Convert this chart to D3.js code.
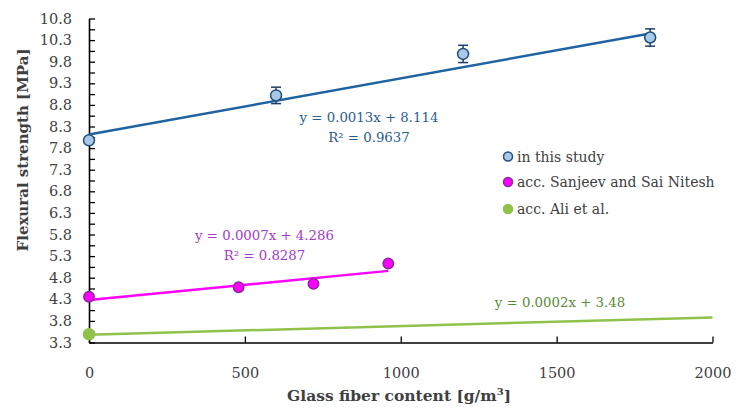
<!DOCTYPE html>
<html><head><meta charset="utf-8">
<script src="https://cdn.jsdelivr.net/npm/d3@7"></script>
<style>body{margin:0;background:#fff}svg{display:block}</style>
</head><body>
<script>
// Data
const studyX = [0, 600, 1200, 1800];
const studyY = [7.98, 9.02, 9.98, 10.36];
const studyErr = [0.02, 0.19, 0.2, 0.2];
const sanjeevX = [0, 480, 720, 960];
const sanjeevY = [4.36, 4.58, 4.66, 5.13];
const aliX = [0];
const aliY = [3.49];
const trendStudy = {slope: 0.0013, intercept: 8.114, x0: 0, x1: 1800};
const trendSanjeev = {slope: 0.0007, intercept: 4.286, x0: 0, x1: 960};
const trendAli = {slope: 0.0002, intercept: 3.48, x0: 0, x1: 2000};
const xTicks = [0, 500, 1000, 1500, 2000];
const yTickLabels = ["3.3","3.8","4.3","4.8","5.3","5.8","6.3","6.8","7.3","7.8","8.3","8.8","9.3","9.8","10.3","10.8"];
const legendLabels = ["in this study", "acc. Sanjeev and Sai Nitesh", "acc. Ali et al."];
const eqStudy = ["y = 0.0013x + 8.114", "R² = 0.9637"];
const eqSanjeev = ["y = 0.0007x + 4.286", "R² = 0.8287"];
const eqAli = ["y = 0.0002x + 3.48"];

const W = 740, H = 411;
const FONT = "'DejaVu Serif', serif";
const svg = d3.select("body").append("svg").attr("width", W).attr("height", H);

const x = d3.scaleLinear().domain([0, 2000]).range([89, 712.5]);
const y = d3.scaleLinear().domain([3.3, 10.8]).range([342.5, 18.5]);

// axes
const yMinor = d3.range(0, 31).map(i => 3.3 + i * 0.25);
const yAxis = d3.axisLeft(y).tickValues(yMinor).tickSize(-6).tickSizeOuter(0)
  .tickFormat(d => { const k = (d - 3.3) / 0.5; return Math.abs(k - Math.round(k)) < 1e-6 ? yTickLabels[Math.round(k)] : ""; });
const gy = svg.append("g").attr("transform", `translate(${x(0)},0)`).call(yAxis);
gy.selectAll("path.domain").attr("stroke", "#000").attr("stroke-width", 1.6);
gy.selectAll("line").attr("stroke", "#000").attr("stroke-width", 1.3);
gy.selectAll("text").attr("x", -17).attr("font-family", FONT).attr("font-size", 14.5).attr("fill", "#404040");

const xAxis = d3.axisBottom(x).tickValues(xTicks).tickSize(-6).tickSizeOuter(0).tickFormat(d => d);
const gx = svg.append("g").attr("transform", `translate(0,${y(3.3)})`).call(xAxis);
gx.selectAll("path.domain").attr("stroke", "#000").attr("stroke-width", 1.6);
gx.selectAll("line").attr("stroke", "#000").attr("stroke-width", 1.3);
gx.selectAll("text").attr("y", 25).attr("font-family", FONT).attr("font-size", 14.5).attr("fill", "#404040");

// titles
svg.append("text").attr("transform", "translate(28,150) rotate(-90)").attr("text-anchor", "middle")
  .attr("font-family", FONT).attr("font-size", 15).attr("font-weight", "bold").attr("fill", "#404040")
  .text("Flexural strength [MPa]");
const xt = svg.append("text").attr("x", 399).attr("y", 401).attr("text-anchor", "middle")
  .attr("font-family", FONT).attr("font-size", 15.5).attr("font-weight", "bold").attr("fill", "#404040");
xt.append("tspan").text("Glass fiber content [g/m");
xt.append("tspan").attr("font-size", 10).attr("dy", -6).text("3");
xt.append("tspan").attr("dy", 6).text("]");

// trendlines
const line = d3.line().x(d => x(d[0])).y(d => y(d[1]));
function trend(t, color) {
  svg.append("path").datum([[t.x0, t.slope * t.x0 + t.intercept], [t.x1, t.slope * t.x1 + t.intercept]])
    .attr("d", line).attr("stroke", color).attr("stroke-width", 2.5).attr("fill", "none");
}
trend(trendAli, "#8fc24a");
trend(trendSanjeev, "#ff00ff");
trend(trendStudy, "#1f64a0");

// error bars
const eb = svg.append("g").attr("stroke", "#1f3f66").attr("stroke-width", 1.5);
studyX.forEach((xv, i) => {
  const y0 = y(studyY[i] - studyErr[i]), y1 = y(studyY[i] + studyErr[i]);
  eb.append("line").attr("x1", x(xv)).attr("x2", x(xv)).attr("y1", y0).attr("y2", y1);
  if (studyErr[i] > 0.05) {
    eb.append("line").attr("x1", x(xv) - 5).attr("x2", x(xv) + 5).attr("y1", y0).attr("y2", y0);
    eb.append("line").attr("x1", x(xv) - 5).attr("x2", x(xv) + 5).attr("y1", y1).attr("y2", y1);
  }
});

// points
function pts(xs, ys, fill, stroke, r) {
  svg.append("g").selectAll("circle").data(xs).join("circle")
    .attr("cx", d => x(d)).attr("cy", (d, i) => y(ys[i])).attr("r", r)
    .attr("fill", fill).attr("stroke", stroke).attr("stroke-width", 1.5);
}
pts(aliX, aliY, "#8fc24a", "#8fc24a", 5.5);
pts(sanjeevX, sanjeevY, "#ff00ff", "#8a2a9a", 5.2);
pts(studyX, studyY, "#a9c8e8", "#1f4e79", 5.5);

// equations
function eq(lines, cx, by, color) {
  lines.forEach((t, i) => svg.append("text").attr("x", cx).attr("y", by + i * 20).attr("text-anchor", "middle")
    .attr("font-family", FONT).attr("font-size", 13.3).attr("fill", color).text(t));
}
eq(eqStudy, 369, 121.5, "#2b5d8c");
eq(eqSanjeev, 264.5, 240, "#a23bc8");
eq(eqAli, 560, 306.5, "#5b8a37");

// legend
const legY = [156.5, 182, 209];
const legFill = ["#a9c8e8", "#ff00ff", "#8fc24a"];
const legStroke = ["#1f4e79", "#8a2a9a", "#8fc24a"];
legendLabels.forEach((t, i) => {
  svg.append("circle").attr("cx", 508).attr("cy", legY[i]).attr("r", 4.5)
    .attr("fill", legFill[i]).attr("stroke", legStroke[i]).attr("stroke-width", 1.5);
  svg.append("text").attr("x", 517).attr("y", legY[i] + 5).attr("font-family", FONT)
    .attr("font-size", 14).attr("fill", "#404040").text(t);
});
</script>
</body></html>
